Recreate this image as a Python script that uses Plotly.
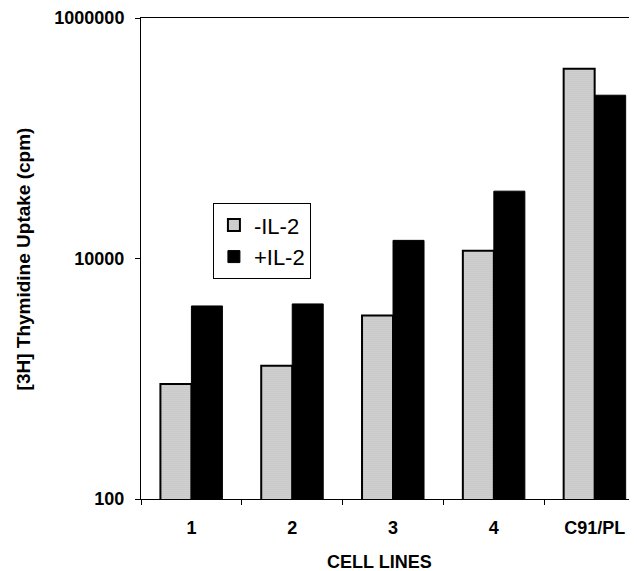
import plotly.graph_objects as go

categories = ["1", "2", "3", "4", "C91/PL"]
minus_il2 = [905, 1280, 3360, 11600, 378000]
plus_il2 = [4030, 4190, 14150, 36300, 228000]
y_tickvals = [100, 10000, 1000000]
y_ticktext = ["100", "10000", "1000000"]

font_family = "Liberation Sans, Arial, sans-serif"

fig = go.Figure()
fig.add_trace(go.Bar(
    x=categories, y=minus_il2, name="-IL-2",
    marker=dict(color="#d4d4d4", line=dict(color="black", width=2),
                pattern=dict(shape=".", fgcolor="#707070", bgcolor="#d8d8d8", size=2, solidity=0.3)),
))
fig.add_trace(go.Bar(
    x=categories, y=plus_il2, name="+IL-2",
    marker=dict(color="black", line=dict(color="black", width=1)),
))

# plot area: x 141..637, y 18..499 in window pixels (page body has 8px margin)
fig.update_layout(
    width=629, height=563,
    margin=dict(l=133, r=0, t=10, b=72, autoexpand=False),
    paper_bgcolor="white", plot_bgcolor="white",
    barmode="group", bargap=0.385, bargroupgap=0,
    font=dict(family=font_family, color="black"),
    legend=dict(
        x=0.145, y=0.615, xanchor="left", yanchor="top",
        bordercolor="black", borderwidth=1, bgcolor="white",
        font=dict(size=22, family=font_family),
        itemwidth=30, tracegroupgap=0,
    ),
    showlegend=True,
    annotations=[
        dict(text="<b>CELL LINES</b>", xref="paper", yref="paper",
             x=0.48, y=-0.131, xanchor="center", yanchor="middle",
             showarrow=False, font=dict(size=18, family=font_family)),
        dict(text="<b>[3H] Thymidine Uptake (cpm)</b>", xref="paper", yref="paper",
             x=-0.236, y=0.5, xanchor="center", yanchor="middle", textangle=-90,
             showarrow=False, font=dict(size=19, family=font_family)),
    ],
)
fig.update_xaxes(
    type="category", range=[-0.5, 4.42], showline=True, linecolor="black", linewidth=1, mirror=True,
    ticks="outside", tickson="boundaries", ticklen=5, tickcolor="black",
    tickfont=dict(size=18, family=font_family, weight="bold"),
    ticklabelstandoff=12,
    showgrid=False,
)
fig.update_yaxes(
    type="log", range=[2, 6], showline=True, linecolor="black", linewidth=1,
    tickvals=y_tickvals, ticktext=y_ticktext,
    ticks="outside", ticklen=5, tickcolor="black",
    tickfont=dict(size=18, family=font_family, weight="bold"),
    ticklabelstandoff=7,
    showgrid=False, zeroline=False,
)
fig.update_layout(
    yaxis2=dict(type="log", range=[2, 6], overlaying="y", side="left",
                tickvals=y_tickvals, ticks="inside", ticklen=6, tickcolor="black",
                showticklabels=False, showline=False, showgrid=False, zeroline=False),
)

fig.write_html("out.html")
